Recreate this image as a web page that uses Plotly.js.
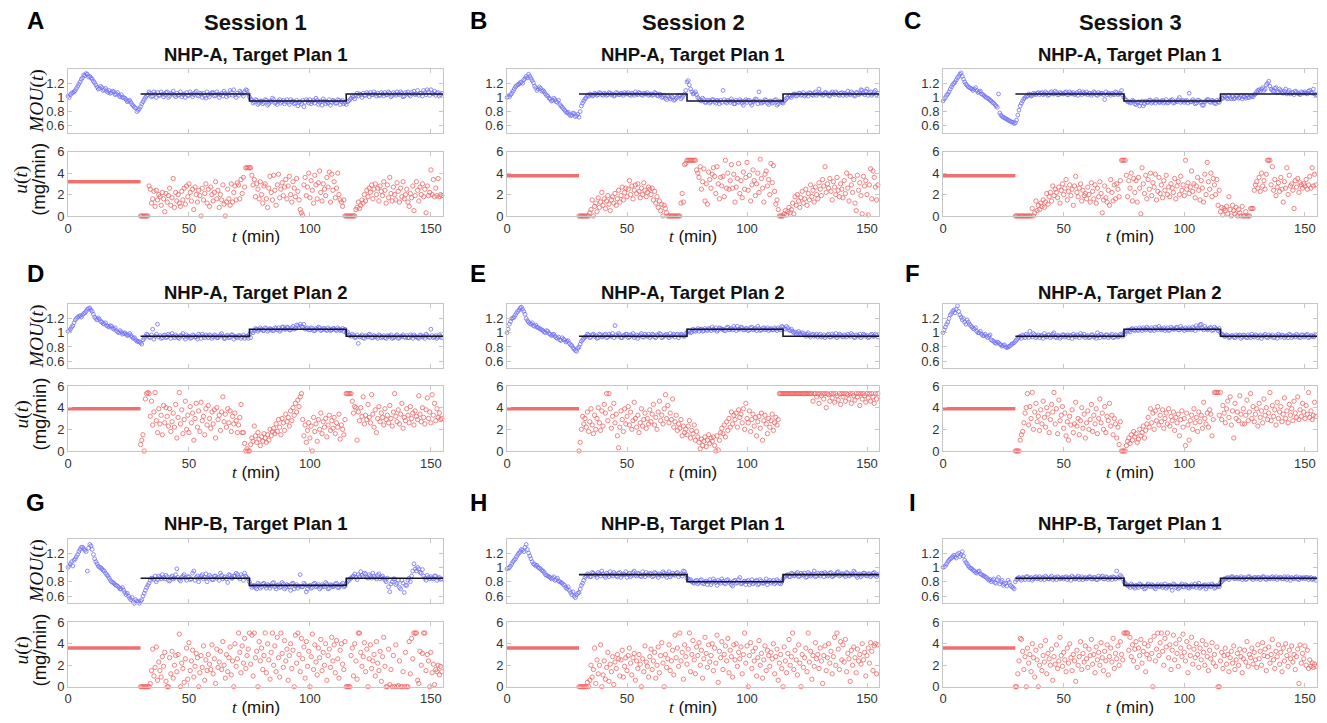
<!DOCTYPE html>
<html>
<head>
<meta charset="utf-8">
<script src="https://cdn.plot.ly/plotly-3.0.1.min.js"></script>
<style>html,body{margin:0;padding:0;background:#fff;}#chart{width:1327px;height:723px;}</style>
</head>
<body>
<div id="chart"></div>
<script>
// ---------------- DATA ----------------
const panelLetters = ['A','B','C','D','E','F','G','H','I'];
const sessionTitles = ['Session 1','Session 2','Session 3'];
const panelTitles = ['NHP-A, Target Plan 1','NHP-A, Target Plan 1','NHP-A, Target Plan 1',
  'NHP-A, Target Plan 2','NHP-A, Target Plan 2','NHP-A, Target Plan 2',
  'NHP-B, Target Plan 1','NHP-B, Target Plan 1','NHP-B, Target Plan 1'];

// sampling: MOU every 1 min from t=0 (whole minutes) and from t=0.5 (half minutes); u every 0.5 min from t=30
const mouT0 = 0, mouHalfT0 = 0.5, mouDt = 1;
const uT0 = 30, uDt = 0.5;

// constant initial infusion (t = 0..30 min), mg/min
const uInitial = [3.2, 3.75, 3.75, 3.9, 3.9, 3.9, 3.6, 3.6, 3.6];
const uInitialTimes = [0, 30];

// target MOU plan: change times and levels
const targetTimes = [30, 75, 115, 155];
const targetA = [1.05, 0.95, 1.05];
const targetD = [0.95, 1.05, 0.95];
const targetG = [0.85, 0.75, 0.85];
const targetH = [0.90, 0.80, 0.90];
const targetLevels = [targetA, targetA, targetA, targetD, targetD, targetD, targetG, targetH, targetG];

// MOU at whole minutes
const mouA = [1.02,1.04,1.07,1.10,1.16,1.22,1.28,1.31,1.33,1.30,
1.26,1.21,1.15,1.13,1.14,1.11,1.09,1.10,1.07,1.08,
1.05,1.03,1.04,1.00,0.97,0.95,0.93,0.88,0.85,0.82,
0.87,0.94,1.00,1.04,1.06,1.02,1.05,1.07,1.03,1.05,
1.04,1.08,1.02,1.05,1.03,1.06,1.04,1.01,1.05,1.07,
1.03,1.05,1.04,1.09,1.02,1.05,1.06,0.99,1.04,1.05,
1.07,1.03,1.05,1.04,1.02,1.06,1.05,1.10,1.03,1.04,
1.06,1.09,1.05,1.08,1.10,1.01,0.96,0.94,0.96,0.92,
0.95,0.93,0.96,0.91,0.94,0.97,0.93,0.95,0.92,0.96,
0.94,0.93,0.97,0.95,0.92,0.88,0.94,0.96,0.93,0.95,
0.97,0.94,0.92,0.96,0.93,0.89,0.95,0.94,0.97,0.93,
0.95,0.92,0.96,0.94,0.91,0.90,0.95,0.99,1.01,1.03,
1.02,1.04,1.06,1.03,1.05,1.07,1.04,1.05,1.06,1.03,
1.05,1.07,1.04,1.06,1.03,1.05,1.08,1.04,1.06,1.02,
1.05,1.04,1.07,1.09,1.05,1.03,1.06,1.10,1.04,1.08,
1.11,1.05,1.03,1.07,1.04];
const mouB = [1.00,1.01,1.06,1.12,1.17,1.19,1.22,1.25,1.30,1.33,
1.27,1.21,1.14,1.12,1.13,1.10,1.05,1.02,0.98,0.96,
0.97,0.93,0.90,0.86,0.82,0.78,0.76,0.75,0.77,0.74,
0.72,0.88,0.95,1.00,1.02,1.04,1.03,1.05,1.04,1.06,
1.03,1.05,1.04,1.06,1.05,1.03,1.06,1.04,1.05,1.07,
1.05,1.04,1.06,1.03,1.05,1.07,1.04,1.06,1.05,1.03,
1.05,1.04,1.06,1.02,1.04,1.01,0.99,1.02,0.98,1.00,
0.97,1.01,1.03,1.00,1.05,1.22,1.18,1.08,1.06,1.04,
0.98,0.95,0.97,0.93,0.96,0.94,0.97,0.92,0.95,0.96,
1.10,0.94,0.96,0.93,0.95,0.91,0.94,0.97,0.92,0.95,
0.93,0.96,0.89,0.95,0.97,1.08,0.92,0.94,0.96,0.90,
0.95,0.93,0.97,0.91,0.94,0.92,0.97,1.00,1.02,1.03,
1.05,1.03,1.06,1.04,1.02,1.05,1.07,1.04,1.06,1.03,
1.12,1.05,1.04,1.07,1.03,1.06,1.05,1.08,1.04,1.06,
1.03,1.05,1.09,1.04,1.06,1.02,1.07,1.05,1.10,1.04,
1.12,1.06,1.03,1.08,1.04];
const mouC = [0.95,1.00,1.05,1.12,1.18,1.22,1.28,1.33,1.30,1.22,
1.17,1.14,1.12,1.12,1.10,1.08,1.05,1.03,1.00,0.98,
0.95,0.92,0.88,1.05,0.75,0.72,0.70,0.68,0.66,0.65,
0.64,0.75,0.88,0.95,1.00,1.02,1.04,1.03,1.05,1.06,
1.04,1.07,1.05,1.06,1.04,1.08,1.05,1.07,1.04,1.06,
1.05,1.08,1.04,1.06,1.07,1.05,1.03,1.06,1.08,1.05,
1.04,1.06,1.05,1.07,1.03,1.05,1.06,0.97,1.04,1.05,
1.06,1.04,1.07,1.05,1.10,1.00,0.96,0.94,0.93,0.95,
0.90,0.94,0.92,0.88,0.95,0.93,0.96,0.94,0.92,0.95,
0.93,0.96,0.94,0.92,0.95,0.97,0.93,0.94,1.00,0.95,
0.93,0.96,1.06,0.94,0.95,0.92,0.96,0.94,0.89,0.95,
0.97,0.93,0.95,0.91,0.94,0.97,0.99,1.01,0.98,1.00,
1.01,0.99,1.02,1.00,0.98,1.01,1.03,1.00,1.02,1.04,
1.08,1.11,1.12,1.10,1.18,1.23,1.12,1.09,1.14,1.08,
1.10,1.06,1.12,1.08,1.05,1.07,1.09,1.06,1.04,1.07,
1.08,1.05,1.10,1.06,1.05];
const mouD = [1.02,1.05,1.10,1.18,1.22,1.24,1.25,1.28,1.33,1.35,
1.30,1.22,1.18,1.19,1.15,1.12,1.10,1.08,1.09,1.05,
1.03,1.00,1.01,0.99,0.98,0.97,0.96,0.92,0.90,0.88,
0.86,0.90,0.95,0.97,0.93,1.05,0.95,1.12,0.96,0.93,
0.97,0.94,0.96,0.99,0.93,0.95,0.92,0.96,0.94,0.97,
0.95,0.93,0.96,0.94,0.98,0.92,0.95,0.97,0.93,0.96,
0.94,0.96,0.93,0.97,0.95,0.92,0.96,0.94,0.97,0.95,
0.93,0.96,0.94,0.92,0.95,0.98,1.02,1.03,1.05,1.04,
1.05,1.03,1.06,1.04,1.05,1.03,1.06,1.07,1.04,1.08,
1.05,1.07,1.04,1.09,1.06,1.10,1.12,1.08,1.05,1.07,
1.04,1.06,1.03,1.05,1.07,1.04,1.06,1.03,1.05,1.04,
1.06,1.03,1.05,1.04,1.02,1.00,0.97,0.95,0.96,0.94,
0.85,0.95,0.93,0.96,0.94,0.97,0.93,0.95,0.92,0.96,
0.94,0.93,0.96,0.95,0.92,0.94,0.97,0.93,0.95,0.94,
0.96,0.93,0.95,0.97,0.94,0.92,0.96,0.95,0.98,0.94,
1.05,0.93,0.96,0.94,0.95];
const mouE = [1.00,1.12,1.20,1.22,1.28,1.32,1.36,1.30,1.20,1.15,
1.12,1.10,1.11,1.07,1.05,1.03,1.00,1.02,0.98,0.97,
0.95,0.92,0.90,0.93,0.90,0.88,0.85,0.82,0.77,0.74,
0.80,0.88,0.92,0.95,0.97,0.94,0.98,0.96,0.93,0.97,
0.95,0.98,0.94,0.96,0.99,1.10,0.95,0.97,0.93,0.96,
0.98,0.94,0.96,0.93,0.97,0.95,0.99,0.94,0.96,0.98,
0.95,0.97,0.93,0.96,0.98,0.94,0.97,0.95,0.99,0.96,
0.94,0.98,0.96,0.97,0.95,1.00,1.02,1.01,1.03,1.04,
1.02,1.05,1.03,1.04,1.06,1.03,1.05,1.07,1.04,1.06,
1.05,1.03,1.08,1.05,1.04,1.06,1.09,1.05,1.07,1.04,
1.06,1.04,1.08,1.05,1.03,1.06,1.04,1.07,1.05,1.03,
1.06,1.04,1.05,1.07,1.04,1.08,1.05,1.07,1.03,1.02,
1.01,1.00,0.99,1.00,0.97,0.98,0.96,0.97,0.95,0.98,
0.96,0.94,0.97,0.95,0.98,0.94,0.96,0.99,0.95,0.97,
0.94,0.96,0.98,0.95,0.97,0.93,0.96,0.98,0.95,0.97,
0.96,0.94,0.98,0.95,0.97];
const mouF = [1.00,1.08,1.15,1.25,1.30,1.28,1.38,1.25,1.18,1.15,
1.18,1.12,1.08,1.05,1.02,1.00,0.98,0.96,0.95,0.95,
0.90,0.88,0.85,0.86,0.83,0.82,0.80,0.80,0.82,0.85,
0.88,0.92,0.95,0.97,0.93,0.96,1.02,0.94,0.97,0.95,
0.93,0.96,0.99,0.94,0.97,0.95,1.00,0.93,0.96,0.94,
0.97,0.95,0.93,0.96,0.98,0.94,0.96,0.99,0.95,0.93,
0.96,0.94,0.97,0.95,1.00,0.93,0.96,0.94,0.97,0.95,
0.98,0.94,0.96,0.95,0.97,1.00,1.02,1.03,1.05,1.04,
1.06,1.03,1.05,1.07,1.04,1.06,1.03,1.05,1.08,1.04,
1.06,1.05,1.03,1.07,1.04,1.06,1.05,1.08,1.04,1.06,
1.03,1.05,1.07,1.04,1.06,1.10,1.05,1.12,1.04,1.06,
1.05,1.07,1.04,1.06,1.03,1.00,0.97,0.95,0.96,0.94,
0.96,0.93,0.95,0.97,0.94,0.96,0.93,0.95,0.98,0.94,
0.96,0.95,0.92,0.96,0.94,0.97,0.95,0.93,0.96,0.98,
0.94,0.96,0.95,0.93,0.97,0.95,0.94,0.96,0.93,0.97,
0.95,0.98,0.94,0.96,0.95];
const mouG = [1.00,1.05,1.02,1.12,1.18,1.25,1.28,1.24,0.95,1.32,
1.25,1.12,1.05,1.00,0.98,0.95,0.90,0.85,0.80,0.78,
0.75,0.72,0.70,0.68,0.62,0.60,0.55,0.52,0.55,0.52,
0.53,0.60,0.68,0.75,0.82,0.85,0.88,0.83,0.86,0.90,
0.84,0.87,0.81,0.88,0.85,0.98,0.83,0.86,0.90,0.82,
0.87,0.84,0.95,0.86,0.80,0.88,0.84,0.91,0.85,0.87,
0.83,0.88,0.86,0.92,0.84,0.87,0.79,0.89,0.85,0.88,
0.90,0.84,0.87,0.92,0.86,0.80,0.72,0.75,0.70,0.76,
0.73,0.78,0.71,0.75,0.74,0.79,0.70,0.76,0.73,0.77,
0.72,0.75,0.68,0.78,0.74,0.71,0.90,0.73,0.76,0.70,
0.75,0.72,0.78,0.74,0.70,0.76,0.73,0.77,0.71,0.75,
0.74,0.78,0.72,0.76,0.73,0.78,0.82,0.85,0.88,0.86,
0.90,0.94,0.87,0.91,0.85,0.88,0.92,0.86,0.89,0.84,
0.88,0.82,0.85,0.66,0.80,0.84,0.78,0.72,0.82,0.65,
0.75,0.85,0.88,1.05,0.95,0.98,0.92,0.88,0.82,0.86,
0.87,0.84,0.88,0.85,0.83];
const mouH = [0.98,1.00,1.05,1.10,1.15,1.20,1.25,1.22,1.32,1.20,
1.12,1.05,1.02,1.00,0.98,0.95,0.90,0.88,0.86,0.85,
0.82,0.85,0.80,0.78,0.75,0.70,0.68,0.62,0.60,0.62,
0.65,0.75,0.82,0.88,0.90,0.87,0.92,0.89,0.93,0.88,
0.91,0.86,0.90,0.94,0.88,0.91,0.87,0.93,0.89,0.90,
0.86,0.92,0.89,0.95,0.88,0.91,0.87,0.90,0.93,0.89,
0.91,0.88,0.92,0.86,0.90,0.94,0.89,0.91,0.87,0.92,
0.89,0.93,0.90,0.88,0.94,0.85,0.82,0.80,0.78,0.82,
0.79,0.83,0.77,0.81,0.80,0.76,0.84,0.79,0.82,0.78,
0.81,0.77,0.83,0.80,0.74,0.82,0.79,0.86,0.78,0.81,
0.80,0.76,0.83,0.79,0.82,0.77,0.81,0.78,0.84,0.80,
0.78,0.82,0.79,0.81,0.77,0.84,0.88,0.90,0.87,0.91,
0.89,0.93,0.88,0.90,0.92,0.87,0.91,0.89,0.95,0.88,
0.90,0.92,0.87,0.91,0.89,0.93,0.88,0.90,0.94,0.89,
0.91,0.87,0.92,0.89,0.90,0.93,0.86,0.91,0.89,0.92,
0.88,0.91,0.89,0.93,0.87];
const mouI = [1.00,1.02,1.08,1.12,1.15,1.15,1.18,1.15,1.22,1.10,
1.05,1.00,0.98,0.95,0.92,0.95,0.90,0.88,0.86,0.82,
0.80,0.84,0.78,0.86,0.80,0.75,0.78,0.82,0.75,0.72,
0.80,0.85,0.84,0.86,0.83,0.87,0.85,0.82,0.86,0.84,
0.87,0.85,0.83,0.86,0.84,0.88,0.85,0.83,0.86,0.85,
0.84,0.87,0.85,0.82,0.86,0.84,0.88,0.85,0.83,0.86,
0.85,0.87,0.84,0.86,0.83,0.85,0.88,0.84,0.86,0.85,
0.83,0.86,0.95,0.85,0.87,0.80,0.76,0.74,0.77,0.73,
0.75,0.72,0.76,0.74,0.71,0.77,0.73,0.75,0.70,0.76,
0.74,0.72,0.77,0.73,0.75,0.68,0.76,0.74,0.72,0.77,
0.73,0.75,0.71,0.76,0.74,0.72,0.78,0.73,0.75,0.70,
0.76,0.73,0.75,0.72,0.74,0.79,0.82,0.84,0.86,0.85,
0.87,0.84,0.86,0.85,0.83,0.86,0.84,0.87,0.85,0.86,
0.84,0.86,0.85,0.87,0.83,0.85,0.86,0.84,0.87,0.85,
0.86,0.84,0.85,0.87,0.82,0.85,0.86,0.84,0.86,0.85,
0.84,0.86,0.85,0.83,0.85];

// MOU at half minutes (t = 0.5, 1.5, ...)
const mouAh = [1.00,1.06,1.08,1.13,1.19,1.26,1.32,1.34,1.29,1.28,
1.23,1.18,1.12,1.16,1.10,1.13,1.07,1.06,1.09,1.04,
1.07,1.01,1.00,0.99,0.94,0.96,0.90,0.86,0.80,0.84,
0.91,0.97,1.02,1.08,1.01,1.08,1.00,1.03,1.08,1.01,
1.07,1.00,1.06,1.09,1.01,1.03,1.08,1.04,1.00,1.03,
1.08,1.01,1.07,1.03,1.06,1.00,1.02,1.08,1.01,1.07,
1.02,1.08,1.00,1.06,1.09,1.01,1.03,1.07,1.11,1.00,
1.03,1.07,1.02,1.11,1.05,0.98,0.92,0.97,0.90,0.95,
0.91,0.97,0.89,0.95,0.99,0.92,0.90,0.97,0.94,0.91,
0.97,0.90,0.94,0.91,0.96,0.93,0.91,0.87,0.97,0.92,
0.91,0.96,0.99,0.90,0.95,0.98,0.91,0.92,0.89,0.96,
0.92,0.97,0.90,0.96,0.93,0.94,0.97,1.02,0.98,1.06,
1.05,1.00,1.03,1.07,1.01,1.04,1.08,1.02,1.03,1.07,
1.02,1.04,1.08,1.01,1.07,1.03,1.05,1.08,1.01,1.07,
1.08,1.02,1.05,1.04,1.10,1.06,1.02,1.07,1.11,1.03,
1.06,1.09,1.06,1.02,1.06];
const mouBh = [1.02,1.04,1.09,1.15,1.18,1.21,1.20,1.27,1.28,1.30,
1.24,1.16,1.10,1.15,1.09,1.08,1.03,0.99,0.95,0.99,
0.94,0.96,0.88,0.84,0.80,0.79,0.74,0.78,0.73,0.76,
0.80,0.92,0.98,1.03,1.05,1.02,1.06,1.03,1.07,1.04,
1.06,1.03,1.07,1.04,1.02,1.07,1.04,1.06,1.03,1.05,
1.07,1.03,1.05,1.08,1.04,1.06,1.03,1.05,1.07,1.04,
1.03,1.07,1.03,1.05,1.00,1.03,0.97,1.00,1.01,0.96,
0.99,1.03,0.98,1.03,1.10,1.24,1.12,1.05,1.08,1.00,
0.96,0.99,0.93,0.96,0.92,0.97,0.94,0.96,0.91,0.93,
0.97,0.92,0.95,0.98,0.91,0.96,0.93,0.95,0.89,0.97,
0.96,0.92,0.94,0.98,0.91,0.95,0.93,0.97,0.92,0.95,
0.92,0.96,0.89,0.95,0.93,0.95,0.99,1.03,1.00,1.05,
1.02,1.06,1.03,1.07,1.04,1.02,1.06,1.03,1.08,1.05,
1.06,1.03,1.07,1.05,1.02,1.08,1.04,1.06,1.03,1.07,
1.06,1.03,1.05,1.08,1.03,1.07,1.04,1.11,1.06,1.09,
1.03,1.08,1.05,1.10,1.06];
const mouCh = [0.98,1.03,1.08,1.15,1.20,1.25,1.30,1.35,1.26,1.19,
1.15,1.13,1.10,1.14,1.07,1.09,1.04,1.01,0.99,0.96,
0.93,0.90,0.86,0.78,0.73,0.71,0.69,0.67,0.65,0.63,
0.68,0.82,0.92,0.98,1.01,1.05,1.02,1.06,1.04,1.07,
1.06,1.04,1.08,1.03,1.07,1.05,1.09,1.04,1.07,1.05,
1.07,1.04,1.08,1.05,1.04,1.07,1.09,1.04,1.06,1.08,
1.06,1.03,1.08,1.04,1.07,1.06,1.04,1.08,1.06,1.03,
1.05,1.08,1.04,1.06,1.03,0.97,0.94,0.92,0.96,0.91,
0.93,0.88,0.95,0.91,0.93,0.96,0.92,0.95,0.97,0.93,
0.95,0.92,0.97,0.93,0.96,0.92,0.95,0.97,0.93,0.96,
0.95,0.92,0.94,0.97,0.91,0.96,0.93,0.89,0.94,0.97,
0.94,0.96,0.92,0.96,0.93,0.99,1.02,0.99,1.03,0.98,
0.98,1.02,0.99,1.03,1.01,0.99,1.00,1.02,1.01,1.05,
1.10,1.09,1.14,1.12,1.20,1.16,1.10,1.13,1.07,1.12,
1.07,1.09,1.05,1.10,1.07,1.04,1.08,1.05,1.08,1.06,
1.06,1.09,1.07,1.12,1.04];
const mouDh = [1.03,1.08,1.14,1.20,1.23,1.22,1.27,1.30,1.34,1.32,
1.26,1.20,1.21,1.16,1.13,1.14,1.09,1.10,1.06,1.07,
1.01,1.03,0.98,1.00,0.96,0.99,0.94,0.93,0.88,0.87,
0.84,0.92,0.98,0.94,0.97,0.91,0.98,0.94,0.92,0.96,
0.93,0.98,0.92,0.95,0.97,0.93,0.96,0.99,0.91,0.95,
0.92,0.97,0.94,0.91,0.96,0.98,0.93,0.95,0.97,0.92,
0.97,0.93,0.95,0.99,0.92,0.96,0.93,0.97,0.91,0.94,
0.96,0.92,0.97,0.95,0.92,0.93,1.00,1.06,1.02,1.07,
1.03,1.07,1.02,1.06,1.03,1.07,1.04,1.02,1.08,1.05,
1.08,1.04,1.07,1.05,1.11,1.07,1.09,1.12,1.06,1.04,
1.07,1.03,1.06,1.08,1.03,1.06,1.04,1.07,1.03,1.06,
1.04,1.07,1.03,1.06,1.05,1.01,0.96,0.98,0.93,0.97,
0.94,0.97,0.92,0.95,0.98,0.93,0.96,0.94,0.97,0.93,
0.96,0.92,0.95,0.97,0.93,0.96,0.92,0.95,0.97,0.93,
0.93,0.97,0.92,0.95,0.93,0.97,0.94,0.92,0.96,0.93,
0.96,0.94,0.92,0.97,0.93];
const mouEh = [1.05,1.16,1.21,1.25,1.30,1.35,1.33,1.26,1.17,1.13,
1.14,1.09,1.08,1.06,1.04,1.01,1.03,0.99,0.96,0.98,
0.93,0.94,0.89,0.91,0.87,0.89,0.83,0.79,0.75,0.78,
0.84,0.90,0.94,0.98,0.93,0.97,0.95,0.92,0.98,0.94,
0.97,0.93,0.98,0.95,0.93,0.97,0.99,0.93,0.96,0.98,
0.93,0.97,0.99,0.95,0.92,0.97,0.94,0.98,0.95,0.93,
0.98,0.94,0.97,0.99,0.93,0.96,0.98,0.93,0.95,0.98,
0.97,0.93,0.98,0.95,0.99,1.03,1.00,1.05,1.02,1.06,
1.05,1.02,1.06,1.03,1.05,1.08,1.04,1.02,1.07,1.05,
1.03,1.07,1.04,1.06,1.09,1.03,1.05,1.08,1.04,1.06,
1.03,1.07,1.04,1.06,1.09,1.03,1.06,1.04,1.07,1.05,
1.04,1.07,1.03,1.05,1.09,1.06,1.09,1.04,1.05,1.00,
0.98,1.02,0.97,0.99,0.95,1.00,0.94,0.98,0.96,0.94,
0.98,0.95,0.93,0.97,0.94,0.98,0.95,0.93,0.98,0.95,
0.97,0.94,0.96,0.99,0.94,0.97,0.95,0.93,0.98,0.95,
0.93,0.97,0.95,0.98,0.94];
const mouFh = [1.04,1.12,1.20,1.27,1.32,1.33,1.30,1.22,1.20,1.12,
1.15,1.10,1.06,1.07,1.00,1.02,0.96,0.98,0.93,0.97,
0.89,0.86,0.87,0.84,0.81,0.83,0.79,0.81,0.84,0.86,
0.90,0.94,0.92,0.95,0.98,0.93,0.96,0.99,0.93,0.97,
0.96,0.92,0.95,0.97,0.93,0.98,0.94,0.96,0.92,0.97,
0.94,0.97,0.96,0.92,0.95,0.97,0.93,0.96,0.98,0.95,
0.93,0.97,0.94,0.92,0.96,0.98,0.94,0.97,0.93,0.96,
0.93,0.97,0.94,0.98,0.95,0.98,1.04,1.01,1.06,1.03,
1.04,1.07,1.03,1.05,1.08,1.04,1.07,1.03,1.06,1.09,
1.04,1.07,1.05,1.03,1.08,1.05,1.07,1.04,1.09,1.05,
1.07,1.04,1.05,1.08,1.03,1.07,1.11,1.06,1.09,1.04,
1.07,1.03,1.08,1.05,1.06,0.98,0.95,0.97,0.93,0.96,
0.94,0.97,0.96,0.92,0.97,0.94,0.97,0.93,0.95,0.97,
0.93,0.97,0.95,0.98,0.93,0.95,0.97,0.94,0.92,0.96,
0.97,0.93,0.96,0.98,0.93,0.96,0.98,0.94,0.97,0.94,
0.97,0.93,0.96,0.94,0.97];
const mouGh = [1.02,1.08,1.10,1.15,1.22,1.28,1.26,1.22,1.27,1.30,
1.18,1.08,1.02,1.00,0.96,0.92,0.88,0.82,0.79,0.76,
0.74,0.70,0.72,0.65,0.64,0.57,0.58,0.50,0.53,0.50,
0.55,0.64,0.72,0.78,0.85,0.83,0.80,0.88,0.84,0.86,
0.89,0.82,0.86,0.84,0.90,0.86,0.81,0.88,0.85,0.87,
0.83,0.92,0.82,0.88,0.85,0.90,0.86,0.80,0.89,0.83,
0.88,0.85,0.82,0.89,0.86,0.84,0.90,0.85,0.88,0.92,
0.86,0.90,0.82,0.88,0.84,0.76,0.74,0.72,0.78,0.71,
0.77,0.74,0.76,0.71,0.78,0.73,0.75,0.72,0.79,0.70,
0.76,0.73,0.77,0.70,0.76,0.74,0.73,0.78,0.66,0.74,
0.71,0.77,0.73,0.76,0.72,0.74,0.79,0.70,0.76,0.73,
0.77,0.72,0.75,0.78,0.74,0.80,0.84,0.87,0.91,0.83,
0.87,0.89,0.92,0.86,0.90,0.85,0.88,0.84,0.91,0.86,
0.85,0.80,0.73,0.77,0.84,0.76,0.82,0.70,0.78,0.75,
0.82,0.80,0.95,0.98,1.00,0.93,0.97,0.85,0.89,0.84,
0.85,0.88,0.82,0.86,0.84];
const mouHh = [0.99,1.02,1.08,1.12,1.18,1.22,1.24,1.28,1.25,1.16,
1.08,1.04,1.03,0.99,0.96,0.93,0.89,0.87,0.84,0.87,
0.83,0.81,0.79,0.76,0.72,0.73,0.65,0.66,0.58,0.64,
0.70,0.78,0.86,0.91,0.87,0.93,0.90,0.86,0.91,0.95,
0.88,0.92,0.87,0.90,0.93,0.88,0.92,0.86,0.91,0.94,
0.90,0.87,0.93,0.89,0.92,0.88,0.94,0.87,0.90,0.92,
0.87,0.93,0.89,0.91,0.88,0.92,0.86,0.94,0.89,0.90,
0.92,0.87,0.91,0.95,0.90,0.84,0.83,0.79,0.81,0.77,
0.82,0.78,0.80,0.76,0.83,0.79,0.81,0.75,0.80,0.84,
0.78,0.82,0.79,0.76,0.81,0.78,0.83,0.77,0.80,0.76,
0.82,0.79,0.77,0.81,0.76,0.83,0.78,0.80,0.76,0.82,
0.80,0.77,0.83,0.78,0.80,0.86,0.89,0.87,0.92,0.88,
0.91,0.87,0.92,0.89,0.86,0.93,0.88,0.91,0.87,0.92,
0.88,0.91,0.93,0.88,0.92,0.87,0.90,0.93,0.88,0.91,
0.89,0.93,0.88,0.91,0.95,0.88,0.90,0.87,0.92,0.89,
0.91,0.87,0.92,0.89,0.90];
const mouIh = [1.01,1.05,1.10,1.13,1.17,1.13,1.20,1.18,1.16,1.07,
1.02,0.99,0.96,0.93,0.94,0.91,0.89,0.87,0.84,0.83,
0.82,0.79,0.83,0.77,0.82,0.77,0.74,0.79,0.73,0.70,
0.83,0.86,0.82,0.85,0.87,0.83,0.86,0.84,0.87,0.85,
0.83,0.86,0.88,0.84,0.86,0.83,0.86,0.87,0.84,0.86,
0.86,0.83,0.86,0.88,0.84,0.86,0.83,0.87,0.85,0.84,
0.87,0.84,0.86,0.83,0.88,0.86,0.84,0.87,0.83,0.86,
0.87,0.84,0.86,0.89,0.84,0.78,0.75,0.72,0.75,0.71,
0.74,0.77,0.73,0.70,0.75,0.74,0.76,0.72,0.74,0.73,
0.76,0.74,0.71,0.75,0.73,0.77,0.72,0.70,0.75,0.73,
0.76,0.72,0.74,0.73,0.77,0.75,0.71,0.74,0.76,0.73,
0.74,0.77,0.71,0.75,0.73,0.80,0.84,0.85,0.83,0.87,
0.85,0.86,0.84,0.87,0.85,0.83,0.87,0.85,0.83,0.86,
0.86,0.83,0.87,0.84,0.86,0.84,0.87,0.85,0.83,0.86,
0.84,0.87,0.83,0.85,0.86,0.84,0.87,0.83,0.85,0.86,
0.86,0.83,0.86,0.84,0.82];

// u (mg/min) every 0.5 min from t = 30
const uA = [0,0,0,0,0,0,0,2.8,2.5,1.2,
1.6,2.3,0.9,2.4,1.5,2.0,1.8,1.0,2.2,1.6,
0.4,2.1,1.3,1.9,2.6,1.0,1.7,3.5,0.8,2.2,
1.4,2.0,1.2,0.9,2.3,1.5,2.6,1.1,2.8,1.8,
3.0,2.2,1.4,2.5,0.6,2.7,2.0,1.3,2.4,1.9,
0.0,2.6,1.5,2.1,3.0,1.2,2.5,0.9,2.7,2.0,
1.4,2.2,3.2,1.6,2.4,0.8,2.0,1.5,2.9,1.1,
0.0,1.3,2.5,1.6,1.0,3.0,1.3,2.2,2.8,1.5,
3.1,2.9,1.6,3.4,2.1,3.6,2.7,4.5,4.5,4.5,
4.5,4.5,3.8,2.9,3.4,1.8,3.0,2.5,1.6,3.2,
2.0,1.2,2.8,3.0,1.6,0.8,2.6,3.7,2.2,1.5,
3.8,2.4,1.0,2.9,3.9,1.7,2.5,3.1,1.9,2.7,
3.4,1.6,2.8,3.7,2.0,1.3,3.2,2.6,1.8,3.5,
2.3,1.5,0.6,0.3,0.1,2.9,3.6,1.9,2.7,4.0,
1.7,3.3,2.4,1.2,3.8,2.9,1.6,3.1,4.2,2.2,
1.4,3.0,2.5,1.9,3.6,2.7,4.1,1.3,3.9,2.4,
3.2,1.7,2.6,4.0,2.0,1.5,1.3,0.9,1.5,0.0,
0,0,0,0,0,0,0,0,0.6,0.8,
1.3,0.7,1.0,1.5,1.2,2.0,1.4,2.4,1.8,2.6,
2.2,2.9,1.6,2.5,3.0,2.0,2.6,1.4,2.8,2.3,
1.9,3.2,2.4,1.2,2.9,1.7,3.6,2.1,1.4,2.7,
2.0,1.5,3.1,2.3,1.3,2.6,1.8,3.2,1.6,2.0,
2.5,1.3,0.9,2.1,1.7,2.8,0.5,1.9,3.2,2.4,
1.4,2.7,2.0,3.0,1.8,2.5,0.3,2.8,1.9,2.2,
4.3,2.0,3.4,1.8,2.6,1.9,3.5,1.8,2.0,1.9];
const uB = [0,0,0,0,0,0,0,0,0,0.3,
0.6,1.5,0.0,0.9,1.2,0.4,1.7,0.8,1.3,2.2,
1.0,1.6,0.7,1.4,1.9,1.1,0.5,1.5,1.8,1.2,
2.1,1.0,1.6,2.4,1.3,1.9,2.7,1.5,2.2,2.6,
1.8,2.5,3.3,2.0,2.8,1.6,2.4,2.9,2.1,3.0,
2.3,1.7,2.6,2.0,3.1,2.4,1.8,2.2,2.7,2.5,
2.0,2.6,1.5,2.3,1.2,1.8,0.8,1.4,0.5,1.1,
0.0,1.0,0.7,0.3,0.0,0.0,0.0,0.0,0.0,0.0,
0,0,0,0,0,1.2,2.1,1.3,4.8,4.9,
5.2,5.2,5.2,5.2,5.2,5.2,5.2,5.2,4.3,4.0,
3.6,4.6,2.5,3.2,4.4,1.4,3.0,1.1,4.1,3.4,
2.6,3.9,4.5,3.7,2.1,4.6,3.0,1.6,3.6,2.8,
3.7,1.8,5.2,2.6,4.0,2.5,3.3,4.8,2.6,3.9,
1.3,2.7,3.5,4.9,2.1,3.3,1.7,4.1,2.5,3.6,
5.0,2.4,3.8,1.4,2.9,4.3,3.3,1.9,3.0,4.0,
2.2,5.3,3.5,2.6,1.3,3.9,4.2,2.8,3.4,2.0,
4.9,3.1,4.7,2.3,1.1,1.5,0.6,0.0,0.0,0.0,
0.0,0.2,0.5,0.1,0.4,0.8,0.3,0.6,1.2,0.2,
1.8,1.0,2.0,1.4,0.8,1.7,2.3,1.2,1.6,2.5,
1.0,2.1,1.5,2.9,1.8,2.4,1.3,2.7,2.0,1.6,
3.1,2.5,1.9,3.4,2.8,4.6,2.2,3.0,2.6,3.5,
2.3,1.5,3.2,2.7,2.0,3.6,2.4,1.8,3.0,2.5,
1.7,3.3,2.1,4.0,2.6,1.4,3.7,2.9,2.2,3.4,
1.2,0.5,3.8,2.4,3.1,1.9,0.2,3.7,2.8,3.3,
2.0,0.1,2.9,4.4,1.6,4.2,3.6,2.7,1.5,2.9];
const uC = [0,0,0,0,0,0,0,0,0,0,
0,0,0,0,0.7,0,0.3,1.4,0.5,1.0,
0.6,1.2,0.9,1.5,0.8,1.3,2.1,1.1,1.8,2.2,
1.4,2.8,1.9,2.5,2.2,1.7,2.7,1.2,2.4,3.0,
2.0,2.6,3.4,1.5,2.3,2.9,1.9,2.5,1.0,2.8,
3.7,2.2,1.8,2.6,3.0,1.4,2.4,1.9,2.1,1.6,
2.7,2.0,1.3,3.1,2.3,1.6,2.9,1.2,2.6,1.8,
3.2,2.1,0.3,1.5,2.8,1.7,1.3,2.4,1.0,3.4,
2.2,1.4,2.9,1.6,3.0,2.5,1.8,3.3,5.2,5.2,
5.2,5.2,3.8,1.8,3.3,2.6,4.0,1.4,3.5,2.2,
3.3,1.3,3.6,2.6,0.2,4.5,3.0,2.1,3.8,1.6,
3.4,2.5,4.0,1.9,3.1,2.7,3.9,1.5,2.3,3.6,
2.1,2.9,1.7,3.3,2.4,3.8,2.0,2.7,1.8,3.0,
2.6,2.2,3.5,1.6,2.8,3.2,2.0,3.7,2.4,2.9,
1.9,5.2,2.5,3.1,2.1,2.7,4.2,2.3,3.0,1.7,
2.8,3.6,2.4,1.5,3.3,2.6,1.3,3.9,2.0,5.0,
3.2,2.5,4.0,1.8,3.5,2.9,2.0,3.4,1.0,2.4,
0.4,0.8,0.1,0.7,0.5,0.9,0.2,1.8,0.6,0.0,
1.0,0.5,0.2,0.8,0.0,0.6,0.3,0.0,0.9,0.0,
0.0,0.4,0.0,0.0,0.0,0.7,0.7,0.7,2.4,2.9,
3.2,2.6,3.6,2.3,4.0,2.8,3.3,2.5,3.9,5.2,
5.2,5.2,2.9,4.6,2.4,3.4,1.9,2.7,3.1,2.3,
3.6,2.5,1.3,3.2,2.6,4.5,2.0,3.8,2.8,3.0,
2.4,0.7,3.3,2.7,3.5,2.2,3.1,2.9,2.6,3.0,
2.8,3.4,2.5,2.9,3.7,2.6,4.5,2.8,3.9,2.9];
const uD = [0.6,1.0,1.5,0.0,4.8,5.3,5.4,5.3,3.2,4.6,
2.4,3.6,5.4,2.8,1.7,3.9,2.5,3.3,1.5,4.2,
2.6,4.0,3.2,2.3,3.9,1.8,2.7,3.5,2.2,4.3,
1.2,3.1,5.4,2.5,3.8,1.6,2.9,4.6,2.0,3.3,
1.7,4.1,2.6,3.5,1.0,3.0,4.4,2.2,3.7,1.8,
4.5,2.8,3.2,1.5,3.9,2.4,4.2,3.0,2.1,3.6,
2.5,3.8,1.2,4.0,2.9,3.3,1.9,3.6,5.0,2.7,
3.4,2.2,3.9,2.6,3.7,1.8,3.2,2.5,3.5,2.8,
1.7,2.4,3.1,4.3,1.7,1.7,0.7,0.0,0.2,0.0,
0.0,0.6,1.2,0.9,2.3,1.4,0.8,1.7,1.1,0.5,
1.3,0.9,1.6,1.2,0.8,1.5,1.0,2.0,1.4,1.8,
2.1,1.6,2.5,1.8,2.9,2.2,1.5,3.0,2.6,1.9,
3.4,2.7,3.1,2.3,3.7,2.8,4.0,3.3,4.4,3.6,
4.7,4.1,5.0,5.3,2.9,1.4,2.4,0.8,1.9,2.6,
1.2,2.3,0.0,3.1,1.8,2.5,0.9,2.9,2.0,3.5,
1.6,2.7,2.2,3.0,1.3,2.4,3.3,1.9,2.8,2.1,
3.1,1.6,2.6,2.2,3.4,1.1,2.4,2.0,1.5,2.9,
5.3,5.3,5.3,5.3,5.3,4.6,3.5,4.1,4.0,1.0,
3.6,2.8,4.0,3.2,5.0,2.5,3.3,2.9,4.3,3.1,
2.6,5.2,3.4,2.2,3.8,1.7,3.0,4.1,2.7,3.5,
3.1,2.4,3.9,2.9,3.3,2.6,4.2,3.0,2.3,3.6,
5.3,3.2,2.7,3.8,2.5,3.4,4.4,2.1,3.1,2.8,
3.9,3.3,2.6,4.1,3.0,3.5,2.4,3.7,3.2,2.9,
5.1,3.4,2.7,4.0,3.1,2.5,3.8,4.9,3.0,3.6,
2.6,5.2,3.3,4.4,2.8,3.9,3.1,3.5,2.9,3.0];
const uE = [0.0,0.8,2.0,3.2,2.5,3.0,2.2,3.6,1.8,2.7,
3.9,2.4,1.6,3.3,2.0,3.0,4.0,2.6,1.9,3.7,
2.3,4.3,3.5,5.3,2.8,5.3,3.9,2.1,3.2,4.4,
2.6,3.4,1.4,0.3,2.2,3.7,2.9,1.8,3.9,2.5,
3.2,4.1,2.4,3.6,2.0,2.8,4.5,3.0,2.2,3.3,
1.7,2.6,3.9,2.3,2.9,3.5,2.1,3.0,2.5,3.8,
2.7,3.4,4.3,2.4,3.1,2.0,3.6,4.6,2.8,3.3,
2.5,3.9,5.2,3.0,4.2,2.6,3.5,2.9,4.8,2.2,
2.7,3.3,1.9,2.5,2.1,2.9,1.4,2.3,1.7,2.0,
1.5,2.3,2.8,1.2,1.9,1.6,2.4,1.0,1.8,1.3,
0.8,0.2,1.1,0.5,0.9,1.3,0.4,1.0,1.5,0.7,
1.2,0.9,1.3,0.5,0.0,1.4,0.1,1.0,1.7,2.1,
1.6,2.4,1.3,2.7,1.9,3.0,2.2,3.6,2.5,3.3,
2.9,3.5,2.2,3.8,3.1,3.4,2.6,3.9,2.0,4.4,
3.0,2.6,3.7,1.8,2.9,3.4,2.3,3.1,1.4,2.7,
3.2,2.1,3.5,1.0,2.8,3.3,2.5,1.6,3.0,2.2,
2.8,3.4,1.9,2.6,3.1,2.4,2.9,5.3,5.3,5.3,
5.3,5.3,5.3,5.3,5.3,5.3,5.3,5.3,5.3,5.3,
5.3,5.3,5.3,5.3,5.3,5.3,5.3,5.3,5.3,5.3,
5.3,5.3,5.3,5.3,5.3,4.6,5.3,5.3,5.0,5.3,
4.4,5.3,5.1,5.3,4.8,5.3,4.0,5.3,5.2,4.6,
5.3,4.9,5.3,4.5,5.3,5.1,4.7,5.3,4.3,5.3,
5.0,5.3,4.6,5.3,5.2,4.8,5.3,4.4,5.3,5.1,
4.7,5.3,5.0,5.3,4.2,5.3,4.8,5.3,5.1,4.5,
5.3,4.9,5.3,4.6,5.3,5.0,4.4,5.3,4.8,5.3];
const uF = [0,0,0,0.0,1.0,1.5,1.8,2.6,3.5,4.0,
5.3,2.4,4.1,3.0,5.4,2.0,3.6,4.4,2.7,3.2,
1.9,3.8,2.5,4.6,3.1,2.2,4.0,3.4,1.7,2.9,
4.3,3.6,5.4,2.5,3.9,1.6,4.7,2.8,3.3,4.1,
2.1,3.5,1.4,2.7,1.0,3.2,2.4,3.8,1.7,2.5,
4.5,2.3,3.0,1.5,2.8,4.0,2.1,3.4,1.2,2.6,
3.7,2.0,2.9,4.3,1.8,3.3,2.5,3.9,1.6,3.0,
4.8,2.6,3.5,2.0,4.1,1.7,3.2,2.8,4.4,2.3,
3.3,1.5,3.0,2.5,1.2,2.2,0.6,2.7,0.0,0.0,
0.0,0.0,0.5,0.9,1.2,0.7,1.5,1.0,1.8,1.3,
1.6,0.8,1.1,2.0,1.4,1.7,2.3,1.2,1.9,2.5,
3.1,2.2,3.9,2.6,3.5,2.0,3.7,2.8,4.1,2.4,
3.3,2.7,3.8,2.1,3.0,3.5,2.5,3.9,2.3,3.2,
2.8,3.6,1.9,3.1,2.6,3.4,1.4,2.9,3.7,2.2,
3.0,0.5,3.5,2.4,1.0,2.8,3.3,2.0,3.9,2.6,
3.1,1.8,3.6,2.7,3.3,2.1,4.5,3.0,2.5,3.5,
2.2,3.8,3.4,1.4,2.9,5.4,5.4,5.4,5.4,3.3,
5.4,2.9,4.2,3.5,2.6,3.9,4.6,3.1,5.0,2.4,
3.7,1.2,4.4,3.0,3.6,2.8,5.1,3.4,2.5,3.9,
2.5,3.3,4.7,2.8,3.6,5.3,3.0,4.1,2.7,3.4,
3.9,2.3,4.4,3.1,3.7,2.6,4.8,3.3,4.0,2.9,
3.5,5.4,2.8,4.2,3.2,3.8,2.4,4.5,3.0,3.6,
4.1,2.7,3.4,4.9,3.0,3.7,2.6,4.3,3.3,3.9,
2.8,4.6,3.5,3.1,5.0,2.9,3.8,3.2,4.4,3.6,
3.0,4.2,3.4,5.4,3.1,3.7,2.9,3.3,4.5,3.2];
const uG = [0,0,0,0,0,0,0,0,0.3,1.5,
3.5,1.0,1.8,3.7,0.6,2.3,1.5,0.9,2.8,1.9,
3.2,0.5,0,0,2.7,1.2,3.3,0.8,2.0,2.9,
1.4,3.0,4.9,0.0,2.2,1.7,0.4,2.6,3.6,0.7,
4.1,1.5,2.4,3.4,0.9,1.9,3.1,2.7,0.0,1.3,
2.9,1.8,3.8,0.6,2.5,1.5,3.0,2.1,1.6,3.9,
1.2,2.6,0.3,3.5,1.8,2.3,3.3,1.6,4.2,2.0,
0.8,3.0,1.4,2.7,3.7,1.1,2.4,0.0,4.0,1.9,
2.6,5.0,3.2,1.3,3.8,2.2,4.5,1.7,2.9,3.5,
5.0,2.1,4.8,1.0,5.0,2.7,3.3,0.0,4.2,2.4,
3.6,1.6,2.9,5.0,1.3,4.0,2.5,0.7,3.2,5.0,
2.0,3.8,1.4,4.6,2.7,0.9,5.0,3.1,1.8,4.3,
2.4,3.5,0.6,2.9,4.0,1.7,3.4,0.0,4.8,2.2,
5.0,3.0,1.4,4.5,2.6,3.7,0.8,4.2,1.9,3.3,
0.0,2.8,4.9,1.6,3.9,2.3,1.1,3.6,2.7,4.4,
1.5,3.2,2.0,4.0,0.6,2.9,3.5,1.8,4.6,2.4,
3.9,1.3,4.3,2.6,0.8,3.4,4.0,2.1,1.6,4.2,
0,0,0,0.0,2.9,3.6,1.0,4.0,2.4,0.7,
5.0,5.0,3.2,1.9,2.8,4.1,1.4,3.5,0.0,2.6,
3.9,1.7,2.4,3.0,1.0,4.2,2.2,1.5,3.3,0.5,
2.8,4.6,1.9,0.0,0.0,3.5,0.2,1.6,0.0,2.9,
0.0,3.9,0.0,0.1,2.4,0.0,0.0,1.4,0.0,3.2,
0.0,0.0,4.2,1.2,4.5,2.6,5.0,5.0,5.0,0.6,
0.3,3.3,2.0,3.1,5.0,5.0,1.5,3.0,2.4,0.0,
3.2,1.3,2.1,0.2,1.6,1.4,2.0,1.1,1.9,1.4];
const uH = [0,0,0,0,0,0,0,0.4,0.0,0.6,
2.0,0.9,1.6,3.6,0.3,2.5,1.2,2.0,3.9,0.0,
1.1,2.4,0.7,1.8,3.2,0.5,2.1,1.4,2.8,0.2,
2.3,1.7,3.0,2.6,1.0,2.5,3.4,0.9,1.9,2.7,
1.5,2.9,3.6,2.2,1.1,2.7,3.1,0.6,2.4,1.7,
3.0,2.1,0.0,2.6,1.4,3.8,2.3,1.9,0.9,2.8,
3.5,1.6,2.4,3.2,0.8,2.0,3.7,1.3,2.9,4.1,
2.2,0.0,3.0,1.8,2.6,3.9,1.5,2.4,3.4,1.1,
4.8,2.7,3.6,1.9,5.0,2.4,3.2,0.7,3.9,2.8,
2.1,3.5,5.0,1.4,3.0,4.3,2.5,1.2,3.7,2.9,
4.1,2.0,3.4,0.8,2.6,4.6,3.1,1.8,3.9,2.3,
2.9,4.0,1.5,3.6,2.2,4.8,0.4,3.3,2.7,4.2,
1.6,3.0,3.8,2.4,4.5,1.3,3.4,2.8,0.9,3.9,
2.5,4.0,1.9,3.2,2.6,3.7,1.2,3.0,5.0,2.2,
3.8,0.0,2.9,4.1,1.7,3.3,2.4,3.6,1.0,2.7,
4.3,2.0,3.1,0.8,2.5,3.8,1.5,3.4,2.9,1.9,
3.2,2.6,4.0,1.2,2.8,3.5,0.6,2.2,3.0,1.7,
0.0,3.7,2.4,1.3,3.1,4.4,2.0,2.8,5.0,1.6,
3.4,2.5,1.1,3.9,2.2,0.0,3.0,1.8,2.7,3.6,
1.4,5.0,2.3,3.3,0.7,2.9,1.9,4.1,2.6,3.0,
1.7,3.6,2.4,0.3,2.9,3.8,1.5,2.7,4.0,2.2,
3.3,1.2,2.8,4.6,2.0,5.0,3.5,1.6,4.2,2.5,
3.9,2.3,4.4,1.4,3.1,2.6,0.5,3.4,2.0,3.7,
2.7,1.3,3.5,2.4,3.0,2.1,4.0,2.5,3.2,1.0,
2.9,3.6,2.2,4.1,3.3,1.5,3.8,4.0,1.2,3.9];
const uI = [0.0,0.0,1.2,2.4,4.5,4.4,3.3,1.6,2.8,0.0,
3.6,2.2,3.0,1.4,4.0,2.7,0.9,3.4,2.5,0.0,
2.0,3.8,1.5,2.9,2.3,4.3,1.2,3.1,2.6,2.0,
3.5,0.6,2.8,2.1,3.9,1.7,2.4,4.6,2.9,1.9,
3.2,2.5,1.4,3.6,2.2,4.0,2.7,1.5,3.0,2.4,
0.5,3.4,2.0,2.8,4.2,1.6,3.1,2.3,3.8,2.6,
1.8,3.5,2.9,4.4,2.1,3.0,1.3,3.7,2.5,3.2,
2.0,4.1,2.7,1.5,3.3,2.4,3.9,1.1,2.8,3.6,
2.3,4.5,1.7,3.1,2.6,3.8,2.0,4.2,3.0,2.5,
5.0,5.0,5.0,5.0,3.4,4.6,2.8,3.9,2.4,3.5,
4.2,1.8,3.6,2.9,4.4,2.2,3.3,4.0,1.4,3.0,
3.8,2.6,4.3,3.1,0.0,4.7,2.4,3.5,5.0,2.9,
4.1,5.0,3.3,2.0,4.5,3.7,5.0,2.7,3.9,1.6,
3.4,4.8,2.5,4.0,3.1,1.9,4.4,3.6,2.8,4.9,
3.2,2.4,4.2,1.3,3.7,2.9,4.6,2.1,3.5,2.7,
4.0,3.0,1.8,3.6,2.5,4.3,3.2,2.0,3.9,2.8,
1.5,3.4,2.6,4.1,2.2,3.0,1.9,3.7,0.0,0.0,
2.4,3.2,1.7,2.9,3.6,2.1,3.0,1.4,2.7,3.3,
2.2,3.8,1.6,2.5,3.1,2.0,3.5,2.8,1.3,2.6,
3.4,2.3,4.2,1.9,3.0,2.7,3.6,2.1,3.2,2.5,
1.8,3.9,2.6,3.3,2.0,4.1,2.9,3.5,1.5,2.8,
3.7,2.2,3.0,4.4,2.5,1.7,3.3,2.8,3.9,2.1,
3.2,1.4,3.6,2.4,4.0,2.9,1.9,3.4,2.6,3.8,
2.3,3.0,1.6,2.8,3.5,0.3,3.9,2.2,3.1,2.6,
3.8,2.0,3.4,1.7,2.5,1.9,2.2,1.8,2.1,1.9];

const mouSeries = [mouA, mouB, mouC, mouD, mouE, mouF, mouG, mouH, mouI];
const mouHalfSeries = [mouAh, mouBh, mouCh, mouDh, mouEh, mouFh, mouGh, mouHh, mouIh];
const uSeries = [uA, uB, uC, uD, uE, uF, uG, uH, uI];

const mouTicks = [0.6, 0.8, 1, 1.2];
const uTicks = [0, 2, 4, 6];
const tTicks = [0, 50, 100, 150];

// ---------------- LAYOUT GEOMETRY (pixels) ----------------
const W = 1327, H = 723;
const colL = [68, 507, 943], colR = [443, 879, 1317];
const mouTop = [69.3, 304.3, 538.7], mouBot = [132.7, 368.3, 603.3];
const uTop = [151.7, 386, 622.3], uBot = [216, 451, 686.7];
const letterX = [35, 478, 912], letterY = [20, 273, 502];
const subTitleY = [54.3, 292.7, 523.3];

const SANS = 'Arial, "Liberation Sans", Helvetica, sans-serif';
const SERIF = '"Liberation Serif", "Times New Roman", serif';
const BLUE = '#7070f2', RED = '#f06464';

const fx = px => px / W;
const fy = py => 1 - py / H;

const traces = [];
const layout = {
  width: W, height: H,
  margin: {l: 0, r: 0, t: 0, b: 0},
  paper_bgcolor: '#fff', plot_bgcolor: '#fff',
  showlegend: false,
  font: {family: SANS, color: '#333'},
  annotations: []
};

function axisCommon() {
  return {showline: true, mirror: 'ticks', linecolor: '#c6c6c6', linewidth: 1,
    ticks: 'inside', ticklen: 4, tickcolor: '#c6c6c6', showgrid: false, zeroline: false,
    tickfont: {family: SANS, size: 13, color: '#333'}, fixedrange: true};
}
function ann(text, px, py, size, extra) {
  layout.annotations.push(Object.assign({text, x: fx(px), y: fy(py), xref: 'paper', yref: 'paper',
    xanchor: 'center', yanchor: 'middle', showarrow: false,
    font: {family: SANS, size, color: '#111'}}, extra || {}));
}

for (let p = 0; p < 9; p++) {
  const r = Math.floor(p / 3), c = p % 3;
  const iM = 2 * p + 1, iU = 2 * p + 2;
  const xM = iM === 1 ? 'x' : 'x' + iM, yM = iM === 1 ? 'y' : 'y' + iM;
  const xU = 'x' + iU, yU = 'y' + iU;
  const kxM = iM === 1 ? 'xaxis' : 'xaxis' + iM, kyM = iM === 1 ? 'yaxis' : 'yaxis' + iM;

  layout[kxM] = Object.assign(axisCommon(), {domain: [fx(colL[c]), fx(colR[c])], range: [0, 155],
    anchor: yM, tickvals: tTicks, showticklabels: false});
  layout[kyM] = Object.assign(axisCommon(), {domain: [fy(mouBot[r]), fy(mouTop[r])], range: [0.5, 1.4],
    anchor: xM, tickvals: mouTicks, ticktext: mouTicks.map(String)});
  layout['xaxis' + iU] = Object.assign(axisCommon(), {domain: [fx(colL[c]), fx(colR[c])], range: [0, 155],
    anchor: yU, tickvals: tTicks});
  layout['yaxis' + iU] = Object.assign(axisCommon(), {domain: [fy(uBot[r]), fy(uTop[r])], range: [0, 6],
    anchor: xU, tickvals: uTicks});

  const mou = mouSeries[p], mouH2 = mouHalfSeries[p];
  const mx = mou.map((_, i) => mouT0 + i * mouDt).concat(mouH2.map((_, i) => mouHalfT0 + i * mouDt));
  traces.push({type: 'scatter', mode: 'markers', xaxis: xM, yaxis: yM, cliponaxis: false,
    x: mx, y: mou.concat(mouH2),
    marker: {symbol: 'circle-open', size: 3.8, color: BLUE, line: {width: 0.8, color: BLUE}}, hoverinfo: 'skip'});
  const lv = targetLevels[p];
  traces.push({type: 'scatter', mode: 'lines', xaxis: xM, yaxis: yM,
    x: targetTimes, y: [lv[0], lv[1], lv[2], lv[2]],
    line: {shape: 'hv', color: '#15152a', width: 1.6}, hoverinfo: 'skip'});

  traces.push({type: 'scatter', mode: 'lines', xaxis: xU, yaxis: yU,
    x: uInitialTimes, y: [uInitial[p], uInitial[p]],
    line: {color: '#f07070', width: 3.5}, hoverinfo: 'skip'});
  const u = uSeries[p];
  traces.push({type: 'scatter', mode: 'markers', xaxis: xU, yaxis: yU, cliponaxis: false,
    x: u.map((_, i) => uT0 + i * uDt), y: u,
    marker: {symbol: 'circle-open', size: 4.3, color: RED, line: {width: 0.8, color: RED}}, hoverinfo: 'skip'});

  const cx = (colL[c] + colR[c]) / 2;
  ann('<b>' + panelLetters[p] + '</b>', letterX[c], letterY[r], 24, {font: {family: SANS, size: 24, color: '#000'}});
  ann('<b>' + panelTitles[p] + '</b>', cx, subTitleY[r], 18.5);
  ann('<span style="font-family:' + SERIF.replace(/"/g, "'") + '"><i>t</i></span> (min)', cx, uBot[r] + 21, 17);
  if (r === 0) ann('<b>' + sessionTitles[c] + '</b>', cx, 22.7, 22);
  if (c === 0) {
    ann('<i>MOU</i>(<i>t</i>)', 37, (mouTop[r] + mouBot[r]) / 2, 19.5, {textangle: -90, font: {family: SERIF, size: 19.5, color: '#111'}});
    ann('<i>u</i>(<i>t</i>)', 21, (uTop[r] + uBot[r]) / 2 - 4, 19.5, {textangle: -90, font: {family: SERIF, size: 19.5, color: '#111'}});
    ann('(mg/min)', 39, (uTop[r] + uBot[r]) / 2 - 4, 18.5, {textangle: -90});
  }
}

Plotly.newPlot('chart', traces, layout, {staticPlot: true, displayModeBar: false, responsive: false});
</script>
</body>
</html>
